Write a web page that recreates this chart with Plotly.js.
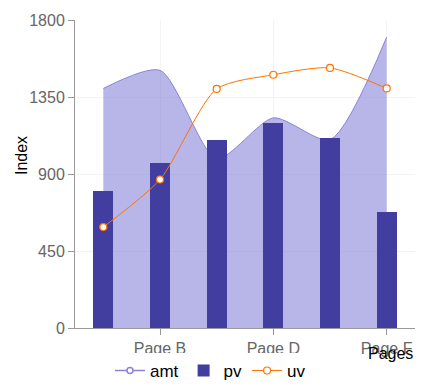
<!DOCTYPE html>
<html><head><meta charset="utf-8">
<script src="https://cdn.plot.ly/plotly-3.0.1.min.js"></script>
<style>html,body{margin:0;padding:0;background:#fff}#c{width:434px;height:384px}</style>
</head><body><div id="c"></div>
<script>
const categories = ['Page A','Page B','Page C','Page D','Page E','Page F'];
const amt = [1400, 1506, 989, 1228, 1100, 1700];
const pv = [800, 967, 1098, 1200, 1108, 680];
const uv = [590, 868, 1397, 1480, 1520, 1400];
const xTicks = ['Page B','Page D','Page F'];
const yTicks = [0, 450, 900, 1350, 1800];

const font = 'Liberation Sans, Arial, sans-serif';
const traces = [
  {x: categories, y: amt, type: 'scatter', mode: 'lines', name: 'amt', showlegend: false,
   line: {color: '#8884d8', width: 1, shape: 'spline', smoothing: 0.7},
   fill: 'tozeroy', fillcolor: 'rgba(136,132,216,0.6)', hoverinfo: 'skip'},
  {x: [null], y: [null], type: 'scatter', mode: 'lines+markers', name: 'amt',
   line: {color: '#8884d8', width: 1.5}, marker: {color: '#fff', size: 6, line: {color: '#8884d8', width: 1.5}}},
  {x: categories, y: pv, type: 'bar', name: 'pv', width: 0.35, xaxis: 'x2', yaxis: 'y2',
   marker: {color: '#413ea0', line: {width: 0}}},
  {x: categories, y: uv, type: 'scatter', mode: 'lines+markers', name: 'uv', xaxis: 'x2', yaxis: 'y2',
   line: {color: '#ff7300', width: 1, shape: 'spline', smoothing: 0.7},
   marker: {color: '#fff', size: 7, line: {color: '#ff7300', width: 1.2}}}
];
const layout = {
  width: 434, height: 384,
  margin: {l: 75, r: 19, t: 20, b: 56},
  paper_bgcolor: '#fff', plot_bgcolor: '#fff',
  font: {family: font, size: 16, color: '#666'},
  showlegend: true,
  legend: {orientation: 'h', xref: 'container', yref: 'container', x: 0.485, xanchor: 'center',
           y: 0.034, yanchor: 'middle', font: {size: 17, color: '#000'}, itemwidth: 30, traceorder: 'normal'},
  xaxis: {type: 'category', categoryorder: 'array', categoryarray: categories, range: [-0.5, 5.5],
          tickvals: xTicks, ticktext: xTicks, ticks: 'outside', ticklen: 6, tickcolor: '#999',
          showline: true, linecolor: '#999', linewidth: 1, showgrid: true, gridcolor: '#f3f3f3',
          zeroline: false, tickfont: {size: 16, color: '#666'}, fixedrange: true},
  yaxis: {range: [0, 1800], tickvals: yTicks, ticks: 'outside', ticklen: 6, tickcolor: '#999',
          showline: true, linecolor: '#999', linewidth: 1, showgrid: true, gridcolor: '#f3f3f3',
          zeroline: false, tickfont: {size: 16, color: '#666'}, fixedrange: true},
  xaxis2: {type: 'category', categoryorder: 'array', categoryarray: categories, range: [-0.5, 5.5],
           overlaying: 'x', visible: false, fixedrange: true},
  yaxis2: {range: [0, 1800], overlaying: 'y', visible: false, fixedrange: true},
  annotations: [
    {text: 'Index', xref: 'paper', yref: 'paper', x: 0, y: 0.56, xshift: -64, textangle: -90,
     showarrow: false, font: {size: 16, color: '#000'}},
    {text: 'Pages', xref: 'paper', yref: 'paper', x: 1, y: 0, xanchor: 'right', yanchor: 'middle',
     xshift: 0, yshift: -25, showarrow: false, font: {size: 16, color: '#000'}}
  ],
  bargap: 0
};
Plotly.newPlot('c', traces, layout, {displayModeBar: false, staticPlot: true});
</script></body></html>
